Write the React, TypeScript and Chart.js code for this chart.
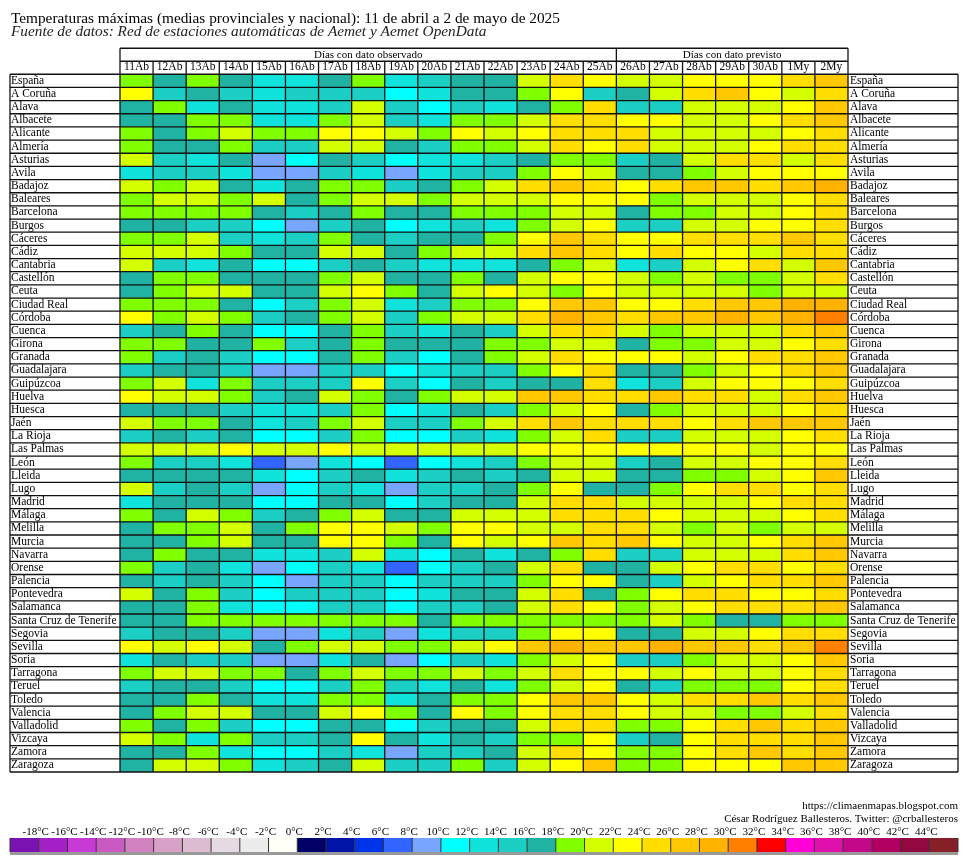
import React, { useEffect, useRef } from "react";
import { Chart, registerables } from "chart.js";

Chart.register(...registerables);

const FONT = "'Liberation Serif', 'Times New Roman', serif";

const titleText = "Temperaturas máximas (medias provinciales y nacional): 11 de abril a 2 de mayo de 2025";
const subtitleText = "Fuente de datos: Red de estaciones automáticas de Aemet y Aemet OpenData";

const days = [
  "11Ab", "12Ab", "13Ab", "14Ab", "15Ab", "16Ab", "17Ab", "18Ab", "19Ab", "20Ab",
  "21Ab", "22Ab", "23Ab", "24Ab", "25Ab", "26Ab", "27Ab", "28Ab", "29Ab", "30Ab", "1My", "2My",
];
const observedDays = 15;
const groupLabels = ["Días con dato observado", "Días con dato previsto"];

const provinces = [
  "España", "A Coruña", "Alava", "Albacete", "Alicante", "Almería", "Asturias", "Avila",
  "Badajoz", "Baleares", "Barcelona", "Burgos", "Cáceres", "Cádiz", "Cantabria", "Castellón",
  "Ceuta", "Ciudad Real", "Córdoba", "Cuenca", "Girona", "Granada", "Guadalajara", "Guipúzcoa",
  "Huelva", "Huesca", "Jaén", "La Rioja", "Las Palmas", "León", "Lleida", "Lugo", "Madrid",
  "Málaga", "Melilla", "Murcia", "Navarra", "Orense", "Palencia", "Pontevedra", "Salamanca",
  "Santa Cruz de Tenerife", "Segovia", "Sevilla", "Soria", "Tarragona", "Teruel", "Toledo",
  "Valencia", "Valladolid", "Vizcaya", "Zamora", "Zaragoza",
];

// Maximum temperatures (°C), one list per province, days 11Ab .. 2My
const espana = [19, 17, 19, 17, 13, 13, 17, 19, 13, 15, 17, 17, 21, 25, 23, 21, 21, 23, 23, 23, 25, 27];
const aCoruna = [23, 15, 17, 15, 13, 15, 15, 15, 11, 13, 17, 17, 19, 23, 15, 17, 21, 25, 27, 23, 21, 25];
const alava = [17, 19, 13, 17, 13, 13, 15, 21, 15, 11, 15, 13, 17, 19, 25, 15, 15, 21, 21, 21, 23, 27];
const albacete = [17, 17, 19, 19, 13, 13, 19, 21, 15, 13, 19, 19, 21, 25, 25, 23, 23, 21, 21, 23, 25, 27];
const alicante = [19, 17, 19, 21, 19, 19, 23, 23, 21, 19, 23, 21, 23, 25, 25, 25, 21, 21, 21, 21, 23, 25];
const almeria = [19, 17, 17, 19, 15, 15, 21, 21, 17, 15, 19, 19, 21, 25, 23, 25, 21, 21, 21, 23, 25, 25];
const asturias = [21, 15, 13, 17, 9, 11, 17, 15, 11, 13, 13, 15, 17, 19, 19, 15, 17, 21, 25, 25, 21, 25];
const avila = [13, 15, 15, 13, 9, 9, 15, 13, 9, 13, 15, 15, 19, 23, 21, 17, 17, 19, 21, 23, 23, 23];
const badajoz = [21, 19, 21, 17, 13, 17, 19, 19, 15, 17, 19, 21, 25, 27, 25, 23, 25, 27, 27, 25, 27, 29];
const baleares = [19, 21, 21, 19, 21, 17, 19, 21, 21, 19, 21, 21, 21, 23, 23, 23, 19, 21, 21, 21, 23, 25];
const barcelona = [19, 19, 19, 19, 17, 15, 17, 19, 17, 17, 19, 19, 19, 21, 21, 17, 19, 19, 21, 21, 23, 25];
const burgos = [17, 17, 15, 15, 11, 9, 15, 17, 11, 13, 15, 13, 19, 21, 23, 15, 15, 21, 21, 23, 23, 25];
const caceres = [19, 19, 21, 15, 13, 15, 19, 17, 15, 17, 17, 19, 23, 27, 25, 23, 23, 25, 25, 25, 27, 25];
const cadiz = [21, 21, 21, 19, 17, 17, 21, 21, 17, 19, 21, 21, 25, 27, 25, 23, 25, 23, 23, 21, 25, 25];
const cantabria = [21, 15, 13, 17, 11, 11, 15, 17, 15, 13, 13, 13, 17, 19, 21, 13, 15, 21, 23, 25, 21, 27];
const castellon = [17, 19, 19, 17, 17, 17, 19, 21, 17, 17, 19, 17, 21, 23, 23, 21, 19, 21, 19, 19, 21, 25];
const ceuta = [17, 19, 21, 21, 17, 17, 21, 23, 19, 17, 21, 23, 21, 19, 23, 21, 21, 21, 21, 19, 21, 21];
const ciudadReal = [19, 19, 19, 17, 11, 15, 19, 21, 13, 15, 19, 19, 23, 27, 27, 23, 23, 25, 27, 27, 29, 29];
const cordoba = [23, 19, 21, 19, 15, 17, 19, 21, 15, 19, 21, 21, 25, 29, 27, 25, 27, 27, 29, 27, 29, 31];
const cuenca = [15, 17, 19, 17, 11, 11, 17, 19, 15, 13, 17, 15, 21, 25, 25, 21, 19, 21, 21, 21, 25, 27];
const girona = [19, 19, 17, 17, 19, 15, 17, 19, 17, 17, 17, 19, 19, 21, 21, 17, 19, 19, 21, 21, 23, 25];
const granada = [19, 15, 17, 15, 11, 11, 17, 19, 15, 11, 17, 19, 21, 25, 23, 23, 23, 21, 23, 25, 25, 27];
const guadalajara = [15, 17, 17, 15, 9, 9, 15, 15, 11, 13, 15, 15, 19, 23, 25, 17, 17, 19, 21, 23, 25, 27];
const guipuzcoa = [19, 21, 13, 19, 15, 15, 15, 23, 15, 11, 17, 15, 17, 17, 25, 13, 15, 21, 23, 23, 23, 25];
const huelva = [23, 21, 21, 19, 15, 17, 21, 19, 17, 19, 21, 21, 27, 27, 25, 25, 27, 25, 25, 21, 25, 27];
const huesca = [17, 17, 17, 15, 13, 13, 15, 19, 11, 13, 17, 15, 19, 21, 23, 17, 19, 21, 21, 21, 23, 25];
const jaen = [21, 19, 19, 17, 13, 15, 19, 21, 15, 15, 19, 21, 25, 27, 25, 25, 25, 23, 25, 27, 27, 27];
const laRioja = [15, 17, 15, 17, 11, 11, 15, 19, 11, 11, 15, 13, 19, 21, 25, 15, 15, 21, 21, 21, 23, 25];
const lasPalmas = [21, 21, 21, 23, 21, 21, 23, 21, 21, 21, 21, 21, 23, 23, 23, 23, 23, 23, 23, 21, 23, 23];
const leon = [19, 15, 15, 13, 7, 9, 13, 11, 7, 11, 13, 15, 19, 21, 21, 15, 17, 21, 21, 23, 23, 25];
const lleida = [17, 17, 17, 17, 13, 11, 15, 17, 13, 15, 17, 15, 17, 21, 21, 17, 17, 19, 19, 21, 23, 27];
const lugo = [21, 15, 17, 15, 9, 11, 15, 13, 9, 15, 15, 17, 19, 23, 17, 17, 19, 23, 25, 25, 23, 25];
const madrid = [13, 17, 17, 17, 11, 11, 17, 17, 11, 15, 17, 17, 21, 25, 25, 21, 21, 21, 21, 23, 25, 25];
const malaga = [19, 17, 21, 19, 15, 17, 19, 21, 17, 17, 21, 21, 21, 25, 25, 25, 23, 21, 21, 21, 23, 25];
const melilla = [17, 19, 19, 21, 17, 19, 23, 23, 21, 19, 23, 23, 21, 21, 25, 25, 21, 19, 21, 19, 21, 21];
const murcia = [17, 17, 19, 21, 17, 17, 23, 23, 19, 17, 23, 21, 23, 27, 25, 27, 23, 21, 21, 23, 25, 27];
const navarra = [17, 19, 17, 17, 13, 13, 15, 21, 13, 11, 17, 13, 17, 19, 25, 15, 15, 21, 21, 21, 25, 27];
const orense = [19, 15, 17, 13, 9, 11, 15, 13, 7, 11, 15, 17, 21, 25, 17, 17, 21, 23, 25, 25, 23, 25];
const palencia = [17, 15, 17, 15, 11, 9, 15, 15, 11, 15, 15, 15, 19, 23, 23, 17, 15, 21, 23, 25, 25, 27];
const pontevedra = [21, 17, 19, 15, 11, 15, 15, 15, 11, 13, 17, 17, 21, 25, 17, 19, 23, 25, 25, 23, 23, 25];
const salamanca = [17, 17, 19, 13, 11, 11, 15, 15, 11, 15, 15, 17, 21, 25, 23, 19, 21, 23, 25, 25, 25, 27];
const tenerife = [17, 17, 19, 19, 19, 19, 19, 19, 19, 17, 19, 19, 19, 19, 19, 19, 21, 19, 17, 17, 19, 19];
const segovia = [15, 17, 17, 15, 9, 9, 13, 15, 9, 13, 15, 15, 19, 23, 23, 17, 17, 21, 21, 23, 25, 25];
const sevilla = [23, 21, 23, 21, 17, 19, 21, 21, 19, 19, 21, 23, 27, 29, 27, 27, 29, 27, 27, 25, 27, 31];
const soria = [13, 17, 15, 15, 9, 9, 13, 17, 9, 11, 15, 13, 19, 21, 23, 15, 15, 19, 21, 21, 23, 27];
const tarragona = [19, 21, 21, 19, 19, 17, 19, 21, 19, 19, 21, 19, 21, 25, 23, 23, 21, 23, 21, 21, 23, 25];
const teruel = [15, 17, 17, 15, 11, 11, 15, 19, 15, 13, 17, 13, 19, 21, 23, 17, 15, 19, 19, 19, 23, 25];
const toledo = [17, 17, 19, 17, 13, 13, 19, 19, 13, 17, 19, 19, 23, 27, 27, 23, 21, 25, 25, 27, 25, 27];
const valencia = [17, 19, 21, 21, 17, 17, 21, 23, 19, 17, 23, 19, 23, 25, 25, 23, 21, 21, 19, 19, 21, 25];
const valladolid = [19, 17, 19, 15, 11, 11, 17, 17, 11, 15, 17, 17, 21, 25, 25, 19, 19, 23, 25, 27, 25, 27];
const vizcaya = [21, 19, 13, 19, 15, 15, 17, 23, 17, 13, 17, 15, 19, 19, 23, 15, 17, 23, 25, 25, 25, 27];
const zamora = [17, 17, 19, 13, 11, 11, 15, 13, 9, 15, 15, 17, 21, 25, 23, 19, 19, 23, 25, 27, 25, 27];
const zaragoza = [17, 21, 21, 19, 13, 15, 17, 21, 15, 15, 19, 15, 21, 23, 27, 19, 19, 23, 23, 23, 27, 27];

const provinceTemps = [
  espana, aCoruna, alava, albacete, alicante, almeria, asturias, avila, badajoz, baleares,
  barcelona, burgos, caceres, cadiz, cantabria, castellon, ceuta, ciudadReal, cordoba, cuenca,
  girona, granada, guadalajara, guipuzcoa, huelva, huesca, jaen, laRioja, lasPalmas, leon,
  lleida, lugo, madrid, malaga, melilla, murcia, navarra, orense, palencia, pontevedra,
  salamanca, tenerife, segovia, sevilla, soria, tarragona, teruel, toledo, valencia,
  valladolid, vizcaya, zamora, zaragoza,
];

// Colour scale: 2 °C bins starting at -20 °C
const scaleStart = -20;
const scaleStep = 2;
const binColors = [
  "#7a12b2", "#a41fc6", "#c83ad6", "#c85ac2", "#d282c0", "#d8a2c8", "#dcbcd0", "#e6dae2",
  "#ececec", "#fffff8", "#000066", "#0014a8", "#0034e8", "#3264ff", "#78a6ff", "#00ffff",
  "#10e2dc", "#1ccfc4", "#20b2a2", "#80ff00", "#d4ff00", "#ffff00", "#ffde00", "#ffc800",
  "#ffb200", "#ff8000", "#ff0000", "#ff00d6", "#e010ac", "#c4088a", "#b20062", "#920840", "#862028",
];
const legendTicks = [
  -18, -16, -14, -12, -10, -8, -6, -4, -2, 0, 2, 4, 6, 8, 10, 12, 14, 16,
  18, 20, 22, 24, 26, 28, 30, 32, 34, 36, 38, 40, 42, 44,
];
const creditLines = [
  "https://climaenmapas.blogspot.com",
  "César Rodríguez Ballesteros. Twitter: @crballesteros",
];

function colorFor(t: number): string {
  let k = Math.floor((t - scaleStart) / scaleStep);
  if (k < 0) k = 0;
  if (k > binColors.length - 1) k = binColors.length - 1;
  return binColors[k];
}

const tablePlugin = {
  id: "tableFrame",
  afterDatasetsDraw(chart: any) {
    const { ctx, chartArea } = chart;
    const xs = chart.scales.x;
    const ys = chart.scales.y;
    const y2 = chart.scales.y2;
    const left = ys.left - 1;
    const right = y2.right;
    const top = chartArea.top;
    const bottom = chartArea.bottom;
    const n = provinces.length;
    const line = (x1: number, yA: number, x2: number, yB: number) => {
      ctx.beginPath();
      ctx.moveTo(x1, yA);
      ctx.lineTo(x2, yB);
      ctx.stroke();
    };
    ctx.save();
    ctx.strokeStyle = "#111";
    ctx.lineWidth = 1.3;
    for (let i = 0; i <= n; i++) {
      const yy = ys.getPixelForValue(i - 0.5);
      line(left, yy, right, yy);
    }
    const headTop = xs.top;
    const headMid = xs.top + 13;
    for (let d = 0; d <= days.length; d++) {
      const xx = xs.getPixelForValue(d);
      line(xx, headMid, xx, bottom);
    }
    line(left, top, left, bottom);
    line(right, top, right, bottom);
    const split = xs.getPixelForValue(observedDays);
    line(chartArea.left, headTop, chartArea.right, headTop);
    line(chartArea.left, headMid, chartArea.right, headMid);
    line(chartArea.left, headTop, chartArea.left, headMid);
    line(split, headTop, split, headMid);
    line(chartArea.right, headTop, chartArea.right, headMid);
    ctx.fillStyle = "#000";
    ctx.font = `11px ${FONT}`;
    ctx.textAlign = "center";
    ctx.textBaseline = "middle";
    const midY = (headTop + headMid) / 2 + 0.5;
    ctx.fillText(groupLabels[0], (chartArea.left + split) / 2, midY);
    ctx.fillText(groupLabels[1], (split + chartArea.right) / 2, midY);
    ctx.restore();
  },
  afterDraw(chart: any) {
    const { ctx } = chart;
    const ys = chart.scales.y;
    const y2 = chart.scales.y2;
    const left = ys.left - 1;
    const right = y2.right;
    const H = chart.height;
    ctx.save();
    // credits
    ctx.fillStyle = "#000";
    ctx.font = `11px ${FONT}`;
    ctx.textAlign = "right";
    ctx.textBaseline = "middle";
    ctx.fillText(creditLines[0], right, H - 54);
    ctx.fillText(creditLines[1], right, H - 41);
    // colour legend
    const cellW = (right - left) / binColors.length;
    const ly = H - 22;
    const lh = 14;
    ctx.fillStyle = "#999";
    ctx.fillRect(left, ly + lh, right - left, 3);
    binColors.forEach((c, k) => {
      ctx.fillStyle = c;
      ctx.fillRect(left + k * cellW, ly, cellW, lh);
    });
    ctx.strokeStyle = "#333";
    ctx.lineWidth = 1;
    for (let k = 0; k <= binColors.length; k++) {
      const xx = left + k * cellW;
      ctx.beginPath();
      ctx.moveTo(xx, ly);
      ctx.lineTo(xx, ly + lh);
      ctx.stroke();
    }
    ctx.fillStyle = "#000";
    ctx.textAlign = "center";
    legendTicks.forEach((v, k) => {
      ctx.fillText(`${v}°C`, left + (k + 1) * cellW - 3, ly - 6);
    });
    ctx.restore();
  },
};

export default function App() {
  const ref = useRef<HTMLCanvasElement | null>(null);
  useEffect(() => {
    if (!ref.current) return;
    const datasets = days.map((day, d) => ({
      label: day,
      data: provinces.map(() => [d, d + 1]),
      backgroundColor: provinceTemps.map((row) => colorFor(row[d])),
      borderWidth: 0,
      grouped: false,
      barPercentage: 1,
      categoryPercentage: 1,
    }));
    const chart = new Chart(ref.current, {
      type: "bar",
      data: { labels: provinces, datasets },
      plugins: [tablePlugin],
      options: {
        indexAxis: "y",
        animation: false,
        responsive: false,
        devicePixelRatio: 1,
        layout: { padding: { left: 11, right: 9, top: 0, bottom: 88 } },
        plugins: {
          legend: { display: false },
          tooltip: { enabled: false },
          title: {
            display: true,
            text: titleText,
            align: "start",
            color: "#000",
            font: { family: FONT, size: 15.3, weight: "normal", lineHeight: 0.8 },
            padding: { top: 12.5, bottom: 0 },
          },
          subtitle: {
            display: true,
            text: subtitleText,
            align: "start",
            color: "#222",
            font: { family: FONT, size: 15.3, style: "italic", weight: "normal", lineHeight: 1 },
            padding: { top: 0, bottom: 8.2 },
          },
        },
        scales: {
          x: {
            type: "linear",
            position: "top",
            min: 0,
            max: days.length,
            grid: { display: false, drawTicks: false },
            border: { display: false },
            afterBuildTicks: (s: any) => {
              s.ticks = days.map((_, i) => ({ value: i + 0.5 }));
            },
            afterFit: (s: any) => {
              s.height = 26;
            },
            ticks: {
              autoSkip: false,
              maxRotation: 0,
              padding: 0,
              color: "#000",
              font: { family: FONT, size: 11.5 },
              callback: (_v: any, i: number) => days[i],
            },
          },
          y: {
            type: "category",
            position: "left",
            offset: true,
            grid: { display: false, drawTicks: false },
            border: { display: false },
            afterFit: (s: any) => {
              s.width = 109;
            },
            ticks: {
              autoSkip: false,
              crossAlign: "far",
              padding: 0,
              color: "#000",
              font: { family: FONT, size: 11.5 },
            },
          },
          y2: {
            type: "category",
            labels: provinces,
            position: "right",
            offset: true,
            grid: { display: false, drawTicks: false },
            border: { display: false },
            afterFit: (s: any) => {
              s.width = 110;
            },
            ticks: {
              autoSkip: false,
              crossAlign: "near",
              padding: 2,
              color: "#000",
              font: { family: FONT, size: 11.5 },
            },
          },
        },
      } as any,
    });
    return () => chart.destroy();
  }, []);
  return (
    <div style={{ position: "absolute", left: 0, top: 0, width: 967, height: 860, background: "#fff" }}>
      <canvas ref={ref} width={967} height={860} style={{ display: "block" }} />
    </div>
  );
}
